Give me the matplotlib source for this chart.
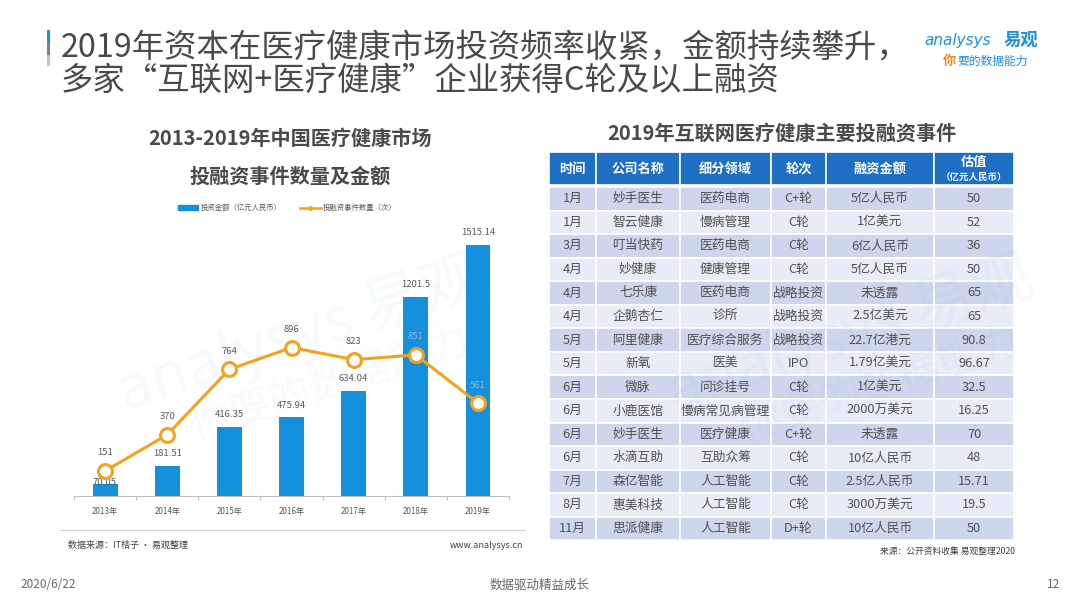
import matplotlib
matplotlib.use('Agg')
import matplotlib.pyplot as plt
from matplotlib.patches import Rectangle
from matplotlib.lines import Line2D
import numpy as np

plt.rcParams['font.family'] = ['Noto Sans CJK SC', 'DejaVu Sans']

# ---- chart data
years = ['2013年', '2014年', '2015年', '2016年', '2017年', '2018年', '2019年']
amounts = [70.05, 181.51, 416.35, 475.94, 634.04, 1201.5, 1515.14]
counts = [151, 370, 764, 896, 823, 851, 561]

# ---- table data
table_header = ['时间', '公司名称', '细分领域', '轮次', '融资金额', '估值']
months = ['1月', '1月', '3月', '4月', '4月', '4月', '5月', '5月', '6月',
          '6月', '6月', '6月', '7月', '8月', '11月']
companies = ['妙手医生', '智云健康', '叮当快药', '妙健康', '七乐康', '企鹅杏仁',
             '阿里健康', '新氧', '微脉', '小鹿医馆', '妙手医生', '水滴互助',
             '森亿智能', '惠美科技', '思派健康']
fields = ['医药电商', '慢病管理', '医药电商', '健康管理', '医药电商', '诊所',
          '医疗综合服务', '医美', '问诊挂号', '慢病常见病管理', '医疗健康',
          '互助众筹', '人工智能', '人工智能', '人工智能']
rounds = ['C+轮', 'C轮', 'C轮', 'C轮', '战略投资', '战略投资', '战略投资',
          'IPO', 'C轮', 'C轮', 'C+轮', 'C轮', 'C轮', 'C轮', 'D+轮']
funding = ['5亿人民币', '1亿美元', '6亿人民币', '5亿人民币', '未透露',
           '2.5亿美元', '22.7亿港元', '1.79亿美元', '1亿美元', '2000万美元',
           '未透露', '10亿人民币', '2.5亿人民币', '3000万美元', '10亿人民币']
valuations = ['50', '52', '36', '50', '65', '65', '90.8', '96.67', '32.5',
              '16.25', '70', '48', '15.71', '19.5', '50']

W, H = 1080, 608
BLUE = '#1590DC'
ORANGE = '#F5A21C'
GRAY_TXT = '#595959'


def fx(x):
    return x / W


def fy(y):
    return 1 - y / H


fig = plt.figure(figsize=(W / 100, H / 100), dpi=100)
fig.patch.set_facecolor('white')

# ---- page title
for y0, y1, c in [(30, 42, '#1E8FE0'), (42, 55, '#808080'), (55, 66, '#c4c4c4')]:
    fig.add_artist(Rectangle((fx(47), fy(y1)), fx(3), (y1 - y0) / H,
                             transform=fig.transFigure, color=c, lw=0))
fig.text(fx(61), fy(48), '2019年资本在医疗健康市场投资频率收紧，金额持续攀升，',
         fontsize=23.3, color='#4a4a4a', va='center', ha='left')
fig.text(fx(61), fy(81), '多家“互联网+医疗健康”企业获得C轮及以上融资',
         fontsize=23.3, color='#4a4a4a', va='center', ha='left')

# logo
fig.text(fx(924), fy(40), 'analysys', fontsize=11, color='#1E8FE0',
         va='center', ha='left', style='italic', family='DejaVu Sans')
fig.text(fx(1004), fy(40), '易观', fontsize=12.5, color='#1E8FE0',
         va='center', ha='left', weight='bold')
fig.text(fx(943), fy(61), '你', fontsize=9.5, color='#F08A1C',
         va='center', ha='left', style='italic', weight='bold')
fig.text(fx(957), fy(61), '要的数据能力', fontsize=8.5, color='#1E8FE0',
         va='center', ha='left', style='italic')

# ---- chart titles
fig.text(fx(290), fy(138), '2013-2019年中国医疗健康市场', fontsize=14.5,
         color='#4a4a4a', weight='bold', ha='center', va='center')
fig.text(fx(290), fy(176), '投融资事件数量及金额', fontsize=14.5,
         color='#4a4a4a', weight='bold', ha='center', va='center')

# watermark
for cx in (300, 850):
    fig.text(fx(cx), fy(335), 'analysys 易观', fontsize=44, color='#1E8FE0',
             alpha=0.045, rotation=18, ha='center', va='center', style='italic')
    fig.text(fx(cx + 30), fy(385), '你要的数据能力', fontsize=30,
             color='#1E8FE0', alpha=0.04, rotation=18, ha='center',
             va='center')

# ---- combo chart
ax = fig.add_axes([fx(74), fy(496), fx(509 - 74), (496 - 200) / H])
ax.set_facecolor('none')
x = np.arange(len(years))
ax.bar(x, amounts, width=0.4, color=BLUE, zorder=2,
       label='投资金额（亿元人民币）')
ax.plot(x, counts, color=ORANGE, lw=2.2, marker='o', markersize=10,
        markerfacecolor='white', markeredgecolor=ORANGE, markeredgewidth=2.2,
        zorder=4, label='投融资事件数量（次）')
ax.set_xlim(-0.5, len(years) - 0.5)
ax.set_ylim(0, 1786)

for i, (a, c) in enumerate(zip(amounts, counts)):
    # bar value label; drop it onto the bar when the marker would hide it
    off = 12 if a + 80 < c - 60 or a > c else 2
    ax.annotate(f'{a:g}', (i, a), xytext=(0, off * 0.72),
                textcoords='offset points', ha='center', va='center',
                fontsize=6.8, color=GRAY_TXT, zorder=3)
    on_bar = c + 110 < a
    ax.annotate(f'{c}', (i, c), xytext=(0, 18 * 0.72),
                textcoords='offset points', ha='center', va='center',
                fontsize=6.8, color='#8fb3d6' if on_bar else GRAY_TXT,
                zorder=5)

for s in ['top', 'right', 'left']:
    ax.spines[s].set_visible(False)
ax.spines['bottom'].set_color('#bfbfbf')
ax.spines['bottom'].set_linewidth(0.8)
ax.set_yticks([])
ax.set_xticks(x)
ax.set_xticklabels(years, fontsize=5.8, color=GRAY_TXT)
ax.tick_params(axis='x', length=0, pad=8)
ax.set_xticks(np.arange(len(years) + 1) - 0.5, minor=True)
ax.tick_params(axis='x', which='minor', length=3, color='#bfbfbf', width=0.8)

handles = [Rectangle((0, 0), 1, 1, color=BLUE),
           Line2D([0], [0], color=ORANGE, lw=1.8, marker='o', markersize=2.5,
                  markerfacecolor=ORANGE)]
ax.legend(handles, ['投资金额（亿元人民币）', '投融资事件数量（次）'],
          loc='center', bbox_to_anchor=(0.49, 0.973), ncol=2, frameon=False,
          fontsize=5.3, handlelength=2.8, handleheight=0.6, columnspacing=2.5,
          handletextpad=0.3, labelcolor=GRAY_TXT)

# chart footer
fig.add_artist(Line2D([fx(60), fx(525)], [fy(530), fy(530)],
                      transform=fig.transFigure, color='#d0d0d0', lw=0.8))
fig.text(fx(68), fy(545), '数据来源：IT桔子 · 易观整理', fontsize=6.5,
         color='#404040', ha='left', va='center')
fig.text(fx(523), fy(545), 'www.analysys.cn', fontsize=6.5,
         color='#404040', ha='right', va='center')

# ---- table
fig.text(fx(782), fy(133), '2019年互联网医疗健康主要投融资事件', fontsize=14.5,
         color='#4a4a4a', weight='bold', ha='center', va='center')

col_w = [47, 84, 91, 55, 108, 80]
header_h, gap, row_h = 33, 2, 23.55
columns = [months, companies, fields, rounds, funding, valuations]
n_rows = len(months)
total_h = header_h + gap + n_rows * row_h
ta = fig.add_axes([fx(549), fy(152 + total_h), fx(sum(col_w)), total_h / H])
ta.set_xlim(0, sum(col_w))
ta.set_ylim(total_h, 0)
ta.axis('off')
edges = np.concatenate([[0], np.cumsum(col_w)])

for j, name in enumerate(table_header):
    ta.add_patch(Rectangle((edges[j], 0), col_w[j], header_h,
                           facecolor='#1F6FC5', edgecolor='white', lw=1.2))
    cx = edges[j] + col_w[j] / 2
    if name == '估值':
        ta.text(cx, header_h * 0.3, name, fontsize=9.5, color='white',
                weight='bold', ha='center', va='center')
        ta.text(cx, header_h * 0.74, '（亿元人民币）', fontsize=6.8,
                color='white', weight='bold', ha='center', va='center')
    else:
        ta.text(cx, header_h / 2, name, fontsize=9.5, color='white',
                weight='bold', ha='center', va='center')

for i in range(n_rows):
    y0 = header_h + gap + i * row_h
    fc = '#CDD6EC' if i % 2 == 0 else '#E8ECF6'
    for j, col in enumerate(columns):
        ta.add_patch(Rectangle((edges[j], y0), col_w[j], row_h,
                               facecolor=fc, edgecolor='white', lw=1.2))
        ta.text(edges[j] + col_w[j] / 2, y0 + row_h / 2, col[i], fontsize=9.2,
                color='#505050', ha='center', va='center')

fig.text(fx(1015), fy(551), '来源：公开资料收集 易观整理2020', fontsize=6.3,
         color='#404040', ha='right', va='center')

# ---- page footer
fig.text(fx(20), fy(585), '2020/6/22', fontsize=8.5, color='#666666',
         ha='left', va='center')
fig.text(fx(540), fy(585), '数据驱动精益成长', fontsize=9, color='#666666',
         ha='center', va='center')
fig.text(fx(1060), fy(585), '12', fontsize=8.5, color='#666666',
         ha='right', va='center')

fig.savefig('out.png', dpi=100)
